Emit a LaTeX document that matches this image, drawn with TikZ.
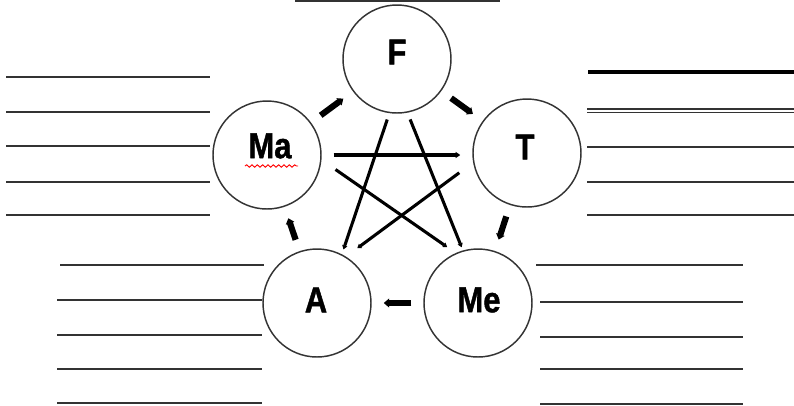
\documentclass[tikz,border=0pt]{standalone}
\usepackage{fontspec}
\setmainfont{Liberation Sans}
\newfontfamily\labfont[FakeStretch=0.86,FakeBold=1.2]{Liberation Sans}
\usetikzlibrary{arrows.meta,decorations.pathmorphing}
\begin{document}
\begin{tikzpicture}[x=0.75pt,y=-0.75pt,
  elem/.style={circle,draw=black!80,line width=1.1pt,minimum size=81pt,inner sep=0pt},
  lab/.style={font=\labfont\fontsize{27}{32}\selectfont\bfseries,inner sep=0pt},
  cyc/.style={line width=4.6pt,-{Triangle[length=4pt,width=6.5pt]},shorten <=9pt,shorten >=9pt},
  star/.style={line width=2.3pt,-{Triangle[length=3pt,width=3.8pt]}},
  rule/.style={line width=1.5pt,draw=black!80}]
\useasboundingbox (0,0) rectangle (794,405);

% the five elements
\node[elem] (F)  at (397,59)  {};
\node[elem] (Ma) at (267,155) {};
\node[elem] (T)  at (527,153) {};
\node[elem] (A)  at (317,303) {};
\node[elem] (Me) at (478,303) {};

\node[lab] (Ft)  at (397,52)  {F};
\node[lab] (Mat) at (270,146) {Ma};
\node[lab] (Tt)  at (525,147) {T};
\node[lab] (At)  at (316,300) {A};
\node[lab] (Met) at (479,300) {Me};

% spell-check underline
\draw[red,line width=0.7pt,decorate,decoration={snake,amplitude=0.9pt,segment length=4pt}]
  (245,166) -- (298,166);

% outer cycle
\draw[cyc] (Me) -- (A);
\draw[cyc] (A) -- (Ma);
\draw[cyc] (Ma) -- (F);
\draw[cyc] (F) -- (T);
\draw[cyc] (T) -- (Me);

% inner star
\draw[star,line width=2.5pt,-{Triangle[length=3.5pt,width=4.5pt]},shorten <=9pt,shorten >=9pt] (Ma.0) -- (Ma.0 -| T.west);
\draw[star,shorten <=12.8pt,shorten >=7.8pt] (Ma.-5) -- (Me.114);
\draw[star,shorten <=12.9pt,shorten >=10.5pt] (T.190) -- (A.58);
\draw[star,shorten <=5pt,shorten >=3.8pt] (F.-98) -- (A.63);
\draw[star,shorten <=5.4pt,shorten >=2.5pt] (F.-79) -- (Me.106);

% writing lines
\draw[rule] (295,1.2) -- (500,1.2);

\foreach \y in {77,112,146,182,215} \draw[rule] (6,\y) -- (210,\y);
\draw[rule] (60,265) -- (264,265);
\foreach \y in {300,335,369,403} \draw[rule] (57,\y) -- (262,\y);

\draw[rule,line width=3pt,draw=black] (588,72) -- (794,72);
\foreach \y in {109,112.5,147,182,215} \draw[rule,line width=1.3pt] (587,\y) -- (794,\y);

\draw[rule] (536,265) -- (743,265);
\foreach \y in {302,337,369,404} \draw[rule] (540,\y) -- (743,\y);
\end{tikzpicture}
\end{document}
